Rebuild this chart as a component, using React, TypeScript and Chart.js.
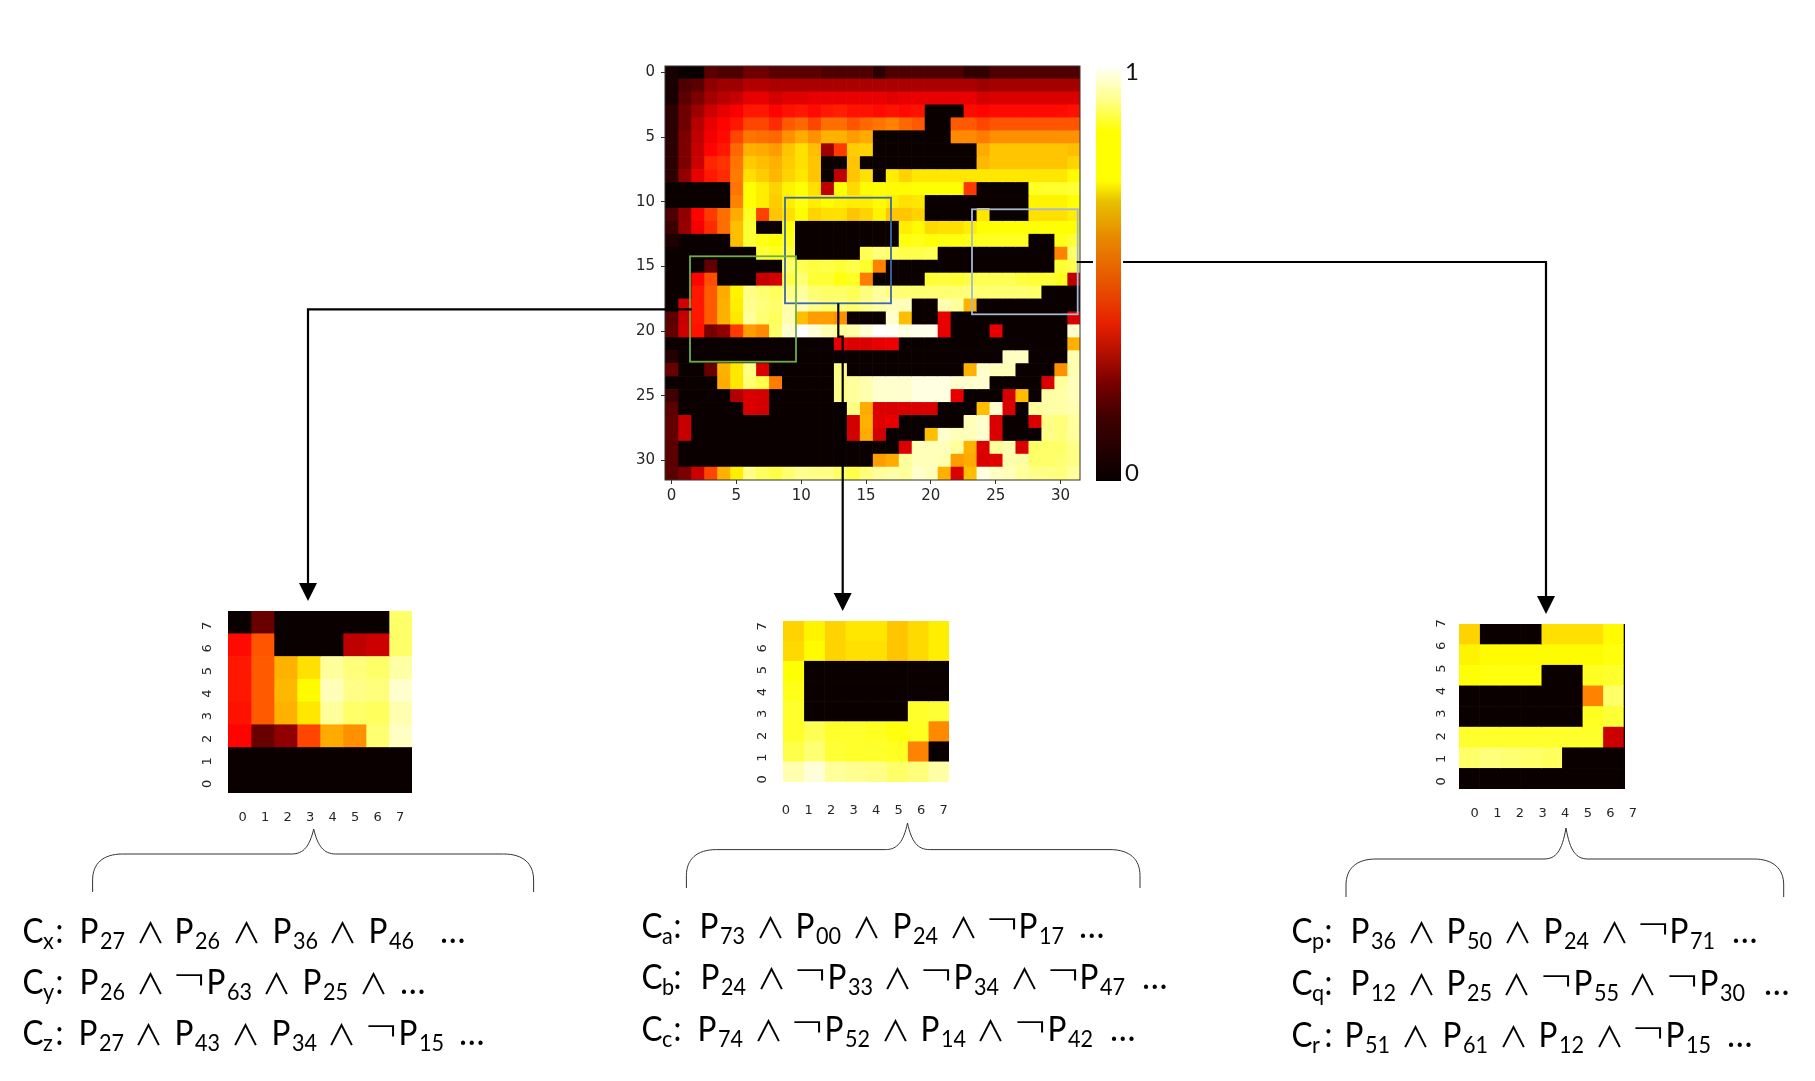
import React, { useEffect, useRef } from "react";
import { Chart, registerables } from "chart.js";

Chart.register(...registerables);

// Main 32x32 attribution map, row 0 first
const mainHeat: number[][] = [
  [.02,0,0,.12,.1,.1,.15,.15,.12,.12,.12,.12,.1,.1,.1,.1,.05,.1,.1,.1,.1,.1,.1,.06,.06,.1,.1,.1,.1,.1,.1,.1],
  [.02,.1,.12,.2,.22,.22,.25,.25,.24,.24,.24,.24,.24,.24,.24,.24,.24,.24,.24,.24,.24,.24,.24,.24,.22,.23,.23,.23,.23,.23,.23,.23],
  [.02,.12,.17,.23,.26,.28,.33,.33,.3,.32,.32,.33,.33,.33,.33,.33,.33,.32,.33,.33,.33,.33,.33,.33,.3,.31,.31,.31,.31,.31,.31,.31],
  [.05,.15,.22,.29,.33,.36,.4,.4,.37,.39,.4,.38,.4,.41,.39,.39,.38,.39,.38,.39,0,0,0,.38,.37,.38,.38,.38,.38,.38,.38,.39],
  [.05,.15,.26,.33,.37,.4,.47,.47,.43,.5,.52,.47,.53,.53,.49,.52,.54,.56,.52,.5,0,0,.5,.5,.47,.49,.49,.49,.49,.49,.49,.49],
  [.05,.17,.27,.35,.38,.47,.54,.53,.52,.58,.62,.58,.63,.63,.6,.62,0,0,0,0,0,0,.57,.57,.55,.58,.58,.58,.58,.58,.58,.58],
  [.05,.17,.28,.37,.4,.52,.63,.62,.6,.66,.7,.65,.22,.45,.67,.68,0,0,0,0,0,0,0,0,.62,.66,.66,.66,.66,.66,.66,.65],
  [.05,.17,.29,.42,.44,.54,.67,.65,.63,.67,.7,.66,0,0,.66,0,0,0,0,0,0,0,0,0,.64,.66,.66,.66,.66,.66,.66,.68],
  [.05,.2,.33,.4,.43,.55,.7,.67,.64,.68,.71,.66,0,.27,.66,.7,0,.72,.68,.71,.71,.71,.71,.71,.71,.71,.71,.71,.71,.71,.71,.74],
  [0,0,0,0,0,.54,.75,.72,.68,.73,.75,.7,.27,.75,.69,.74,.75,.74,.74,.75,.75,.75,.75,.45,0,0,0,0,.78,.79,.79,.8],
  [0,0,0,0,0,.56,.75,.72,.67,.72,.76,.72,.74,.73,.72,.72,.74,.72,.7,.71,0,0,0,0,0,0,0,0,.73,.73,.73,.75],
  [.1,.2,.37,.45,.53,.62,.78,.46,.66,.7,.74,.68,.7,.7,.66,.68,.73,.66,.66,.68,0,0,0,0,.71,0,0,0,.7,.7,.7,.72],
  [.07,.21,.35,.43,.53,.65,.8,0,0,.76,0,0,0,0,0,0,0,0,.72,.74,.69,.7,.7,.72,.75,.75,.75,.75,.75,.75,.75,.75],
  [.03,0,0,0,0,.65,.8,.77,.75,.78,0,0,0,0,0,0,0,0,.76,.77,.75,.76,.76,.77,.78,.78,.78,.78,0,0,.77,.8],
  [0,0,0,0,0,0,0,.8,.78,.81,0,0,0,0,0,.83,.87,.84,.82,.82,.83,0,0,0,0,0,0,0,0,0,.56,.85],
  [0,0,0,.13,0,0,0,0,0,.85,.83,.81,.82,.8,.82,.79,.56,0,0,0,0,0,0,0,0,0,0,0,0,0,.8,.82],
  [0,0,.37,.48,0,0,0,.28,.3,.82,.86,.8,.8,.76,.78,.55,0,0,0,0,.8,.81,.8,.82,.83,.83,.83,.81,.8,.8,.78,.27],
  [0,0,.4,.5,.62,.73,.88,.86,.84,.88,.9,.86,.85,.85,.83,.87,.9,.87,.86,.86,.86,.86,.86,.87,.86,.86,.86,.86,.85,0,0,0],
  [0,.3,.4,.5,.63,.72,.89,.87,.85,.91,.93,.88,.86,.87,.85,.88,.91,.93,.93,0,0,.92,.9,.63,0,0,0,0,0,0,0,0],
  [.12,.28,.4,.5,.63,.71,.9,.86,.84,.92,.65,.6,.6,.58,0,0,0,.95,.65,0,0,.33,0,0,0,0,0,0,0,0,0,.31],
  [.13,.29,.39,.16,.2,.45,.6,.57,.85,.95,1,.96,.92,.9,.91,.96,1,.99,.97,.98,.98,.33,0,0,0,.33,0,0,0,0,0,.95],
  [0,0,0,0,0,0,0,0,0,0,0,0,0,.33,.31,.31,.33,.34,0,0,0,0,0,0,0,0,0,0,0,0,0,.63],
  [.04,0,0,0,0,0,0,0,0,0,0,0,0,0,0,0,0,0,0,0,0,0,0,0,0,0,.94,.94,0,0,0,.92],
  [.14,0,0,.14,.63,.71,.88,.31,0,0,0,0,0,.88,0,0,0,0,0,0,0,0,0,.63,.95,.93,.93,0,0,0,.58,.92],
  [0,0,0,0,.62,.71,.86,.82,.55,0,0,0,0,.88,.9,.92,.95,.95,.95,.97,.97,.97,.95,.95,.95,0,0,0,0,.31,.9,.93],
  [.08,0,0,0,0,.25,.31,.3,0,0,0,0,0,.88,.9,.92,.95,.95,.95,.97,.97,.97,.33,0,0,0,.3,.65,0,.91,.91,.93],
  [.12,0,0,0,0,0,.31,.3,0,0,0,0,0,0,.88,.62,.31,.31,.31,.31,.31,0,0,0,.65,.95,.31,0,.9,.91,.91,.92],
  [.13,.28,0,0,0,0,0,0,0,0,0,0,0,0,.3,.63,.32,.33,0,0,0,0,0,.93,.95,.31,0,0,.31,.88,.87,.9],
  [.13,.28,0,0,0,0,0,0,0,0,0,0,0,0,.3,.62,.3,0,0,0,.65,.95,.93,.93,.95,.31,0,0,0,.88,.87,.9],
  [.12,0,0,0,0,0,0,0,0,0,0,0,0,0,0,0,0,0,.31,.93,.93,.93,.9,.63,.31,.9,.92,.31,.85,.85,.85,.88],
  [.12,0,0,0,0,0,0,0,0,0,0,0,0,0,0,0,.6,.62,.9,.93,.93,.92,.6,.62,.31,.32,.92,.91,.85,.85,.86,.88],
  [.12,.17,.29,.47,.63,.72,.88,.84,.82,.86,.89,.88,.88,.85,.82,.87,.9,.91,.9,.95,.93,.63,.31,.65,.97,.94,.93,.9,.88,.88,.87,.9],
];

// Zoomed 8x8 crops, top row first
const leftHeat: number[][] = [
  [0,.14,0,0,0,0,0,.85],
  [.38,.49,0,0,0,.27,.29,.85],
  [.4,.5,.63,.7,.9,.87,.85,.91],
  [.4,.5,.64,.74,.93,.88,.87,.95],
  [.39,.5,.63,.71,.9,.85,.84,.92],
  [.37,.14,.2,.47,.62,.58,.86,.94],
  [0,0,0,0,0,0,0,0],
  [0,0,0,0,0,0,0,0],
];
const middleHeat: number[][] = [
  [.68,.73,.68,.71,.71,.66,.69,.72],
  [.69,.74,.68,.7,.7,.66,.69,.72],
  [.75,0,0,0,0,0,0,0],
  [.77,0,0,0,0,0,0,0],
  [.79,0,0,0,0,0,.79,.8],
  [.79,.83,.79,.79,.78,.76,.78,.57],
  [.82,.86,.8,.79,.79,.78,.56,0],
  [.92,.96,.9,.89,.88,.85,.87,.91],
];
const rightHeat: number[][] = [
  [.68,0,0,0,.7,.7,.7,.74,0],
  [.73,.74,.74,.74,.74,.74,.74,.76,0],
  [.75,.76,.76,.76,0,0,.78,.79,0],
  [0,0,0,0,0,0,.56,.85,0],
  [0,0,0,0,0,0,.78,.8,0],
  [.79,.79,.79,.79,.79,.79,.79,.29,0],
  [.85,.87,.86,.85,.84,0,0,0,0],
  [0,0,0,0,0,0,0,0,0],
];

const mainTicks = [0, 5, 10, 15, 20, 25, 30];
const cropTicks = [0, 1, 2, 3, 4, 5, 6, 7];
const colorbarTicks = [0, 1];
const colorbarStops = [0, 0.08, 0.155, 0.275, 0.325, 0.41, 0.54, 0.62, 0.685, 0.765, 0.845, 1];
const colorbarColors = ["#fffff8", "#ffff8a", "#ffff00", "#ffff00", "#e8c000", "#e88a00", "#e84a00", "#e82000", "#b81000", "#780000", "#400000", "#080000"];

type Token = [number, string, string?];
const clausesLeft: { base: number; items: Token[] }[] = [
  { base: 943, items: [[24,"C","x"],[57,":"],[81,"P","27"],[140,"∧"],[176,"P","26"],[236,"∧"],[274,"P","36"],[332,"∧"],[370,"P","46"],[440,"…"]] },
  { base: 994, items: [[24,"C","y"],[57,":"],[81,"P","26"],[140,"∧"],[176,"¬"],[208,"P","63"],[266,"∧"],[304,"P","25"],[363,"∧"],[400,"…"]] },
  { base: 1045, items: [[24,"C","z"],[57,":"],[80,"P","27"],[138,"∧"],[176,"P","43"],[235,"∧"],[273,"P","34"],[331,"∧"],[368,"¬"],[400,"P","15"],[459,"…"]] },
];
const clausesMiddle: { base: number; items: Token[] }[] = [
  { base: 938, items: [[643,"C","a"],[675,":"],[701,"P","73"],[760,"∧"],[797,"P","00"],[856,"∧"],[894,"P","24"],[953,"∧"],[989,"¬"],[1020,"P","17"],[1079,"…"]] },
  { base: 989, items: [[643,"C","b"],[675,":"],[702,"P","24"],[761,"∧"],[797,"¬"],[829,"P","33"],[887,"∧"],[923,"¬"],[955,"P","34"],[1014,"∧"],[1050,"¬"],[1081,"P","47"],[1142,"…"]] },
  { base: 1041, items: [[643,"C","c"],[675,":"],[699,"P","74"],[758,"∧"],[794,"¬"],[826,"P","52"],[885,"∧"],[922,"P","14"],[980,"∧"],[1017,"¬"],[1049,"P","42"],[1110,"…"]] },
];
const clausesRight: { base: number; items: Token[] }[] = [
  { base: 943, items: [[1293,"C","p"],[1326,":"],[1352,"P","36"],[1411,"∧"],[1448,"P","50"],[1507,"∧"],[1545,"P","24"],[1604,"∧"],[1640,"¬"],[1671,"P","71"],[1732,"…"]] },
  { base: 995, items: [[1293,"C","q"],[1326,":"],[1352,"P","12"],[1411,"∧"],[1448,"P","25"],[1506,"∧"],[1543,"¬"],[1575,"P","55"],[1632,"∧"],[1669,"¬"],[1701,"P","30"],[1764,"…"]] },
  { base: 1047, items: [[1293,"C","r"],[1326,":"],[1346,"P","51"],[1405,"∧"],[1444,"P","61"],[1503,"∧"],[1540,"P","12"],[1599,"∧"],[1635,"¬"],[1667,"P","15"],[1727,"…"]] },
];

function hot(v: number): string {
  const c = (x: number) => Math.round(Math.max(0, Math.min(1, x)) * 255);
  const r = c(0.0416 + (v / 0.3651) * 0.9584);
  const g = c((v - 0.3651) / 0.3809);
  const b = c((v - 0.746) / 0.254);
  return `rgb(${r},${g},${b})`;
}

const spineBox = {
  id: "spineBox",
  afterDraw(chart: any, _a: any, opts: any) {
    if (!opts.color) return;
    const { left, top, width, height } = chart.chartArea;
    chart.ctx.save();
    chart.ctx.strokeStyle = opts.color;
    chart.ctx.lineWidth = 1;
    chart.ctx.strokeRect(left, top, width, height);
    chart.ctx.restore();
  },
};

type HeatCfg = {
  grid: number[][];
  box: [number, number, number, number];
  cellMax: number;
  xr: [number, number];
  yr: [number, number];
  xTicks: number[];
  yTicks: number[];
  font: number;
  tickLen: number;
  xPad: number;
  yPad: number;
  rotateY: boolean;
  flipY: boolean;
  spine: string;
};

const PADL = 60, PADT = 10, PADR = 30, PADB = 40;

const heats: HeatCfg[] = [
  { grid: mainHeat, box: [665, 66, 415, 414], cellMax: 32, xr: [-0.5, 31.5], yr: [-31.5, 0.5], xTicks: mainTicks, yTicks: mainTicks, font: 15, tickLen: 4, xPad: 3, yPad: 6, rotateY: false, flipY: true, spine: "#333" },
  { grid: leftHeat, box: [228.3, 611, 184.4, 182.3], cellMax: 8, xr: [-0.652, 7.53], yr: [-0.4, 7.66], xTicks: cropTicks, yTicks: cropTicks, font: 13, tickLen: 0, xPad: 17, yPad: 16, rotateY: true, flipY: false, spine: "" },
  { grid: middleHeat, box: [783, 621, 166.3, 160.7], cellMax: 8, xr: [-0.133, 7.235], yr: [-0.115, 7.25], xTicks: cropTicks, yTicks: cropTicks, font: 13, tickLen: 0, xPad: 21, yPad: 16, rotateY: true, flipY: false, spine: "" },
  { grid: rightHeat, box: [1459.3, 624, 165.7, 165.3], cellMax: 8.08, xr: [-0.696, 6.646], yr: [-0.336, 6.97], xTicks: cropTicks, yTicks: cropTicks, font: 13, tickLen: 0, xPad: 17, yPad: 13, rotateY: true, flipY: false, spine: "" },
];

function buildHeat(canvas: HTMLCanvasElement, cfg: HeatCfg): Chart {
  const rows = cfg.grid.map((_, i) => String(i));
  const cols = cfg.grid[0].length;
  const datasets = Array.from({ length: cols }, (_, c) => ({
    data: cfg.grid.map(() => [c, c + 1]),
    backgroundColor: cfg.grid.map((row) => hot(row[c])),
    borderWidth: 0,
    xAxisID: "x",
    yAxisID: "y",
    barPercentage: 1,
    categoryPercentage: 1,
    grouped: false,
  }));
  const tickColor = "#262626";
  const tickGrid = {
    display: cfg.tickLen > 0,
    offset: false,
    drawOnChartArea: false,
    drawTicks: cfg.tickLen > 0,
    tickLength: cfg.tickLen,
    color: "#333",
  };
  return new Chart(canvas, {
    type: "bar",
    data: { labels: rows, datasets: datasets as any },
    plugins: [spineBox],
    options: {
      indexAxis: "y",
      animation: false,
      responsive: false,
      events: [],
      layout: { padding: { left: 0, top: PADT, right: PADR, bottom: 0 } },
      plugins: { legend: { display: false }, tooltip: { enabled: false }, spineBox: { color: cfg.spine } } as any,
      scales: {
        x: { type: "linear", display: false, min: 0, max: cfg.cellMax },
        y: { type: "category", display: false, offset: true },
        xt: {
          type: "linear",
          axis: "x",
          position: "bottom",
          offset: false,
          min: cfg.xr[0],
          max: cfg.xr[1],
          grid: tickGrid,
          border: { display: false },
          afterBuildTicks: (a: any) => { a.ticks = cfg.xTicks.map((value) => ({ value })); },
          afterFit: (a: any) => { a.height = PADB; a.paddingLeft = 0; a.paddingRight = 0; },
          ticks: {
            autoSkip: false, maxRotation: 0, minRotation: 0, padding: cfg.xPad, color: tickColor,
            font: { family: "'DejaVu Sans'", size: cfg.font },
            callback: (v: any) => String(v),
          },
        },
        yt: {
          type: "linear",
          axis: "y",
          position: "left",
          offset: false,
          min: cfg.yr[0],
          max: cfg.yr[1],
          grid: tickGrid,
          border: { display: false },
          afterBuildTicks: (a: any) => { a.ticks = cfg.yTicks.map((t) => ({ value: cfg.flipY ? -t : t })); },
          afterFit: (a: any) => { a.width = PADL; a.paddingTop = 0; a.paddingBottom = 0; },
          ticks: {
            autoSkip: false,
            minRotation: cfg.rotateY ? 90 : 0,
            maxRotation: cfg.rotateY ? 90 : 0,
            crossAlign: cfg.rotateY ? "center" : "near",
            padding: cfg.yPad,
            color: tickColor,
            font: { family: "'DejaVu Sans'", size: cfg.font },
            callback: (v: any) => String(Math.abs(v)),
          },
        },
      } as any,
    },
  });
}

function buildColorbar(canvas: HTMLCanvasElement): Chart {
  return new Chart(canvas, {
    type: "bar",
    data: {
      labels: ["colorbar"],
      datasets: [{
        data: [[-0.02, 1.012]] as any,
        borderWidth: 0,
        barPercentage: 1,
        categoryPercentage: 1,
        backgroundColor: (ctx: any) => {
          const area = ctx.chart.chartArea;
          if (!area) return "#000";
          const g = ctx.chart.ctx.createLinearGradient(0, area.top, 0, area.bottom);
          colorbarStops.forEach((s, i) => g.addColorStop(s, colorbarColors[i]));
          return g;
        },
      }],
    },
    options: {
      animation: false,
      responsive: false,
      events: [],
      layout: { padding: { top: 20, bottom: 20 } },
      plugins: { legend: { display: false }, tooltip: { enabled: false } },
      scales: {
        x: { type: "category", display: false, offset: true },
        y: {
          type: "linear",
          position: "right",
          min: -0.02,
          max: 1.012,
          grid: { display: false },
          border: { display: false },
          afterBuildTicks: (a: any) => { a.ticks = colorbarTicks.map((value) => ({ value })); },
          afterFit: (a: any) => { a.width = 45; a.paddingTop = 0; a.paddingBottom = 0; },
          ticks: {
            padding: -4, color: "#111",
            font: { family: "Lato", size: 24 },
            callback: (v: any) => String(v),
          },
        },
      },
    } as any,
  });
}

const Clause = ({ base, items }: { base: number; items: Token[] }) => (
  <g fill="#000">
    {items.map(([x, t, sub], i) => {
      if (t === "∧") return <text key={i} x={x - 4} y={base + 1} fontFamily="'Noto Sans CJK SC'" fontSize={29}>{t}</text>;
      if (t === "¬") return <text key={i} x={x - 4} y={base - 3} fontFamily="'DejaVu Sans'" fontWeight={200} fontSize={42}>{t}</text>;
      if (t === "…") return <text key={i} x={x} y={base} fontFamily="Lato" fontSize={34}>{t}</text>;
      return (
        <g key={i}>
          <text transform={`translate(${x - 1.5},${base}) scale(0.9,1)`} fontFamily="Lato" fontSize={35}>{t}</text>
          {sub ? <text transform={`translate(${x + 19},${base + 6}) scale(0.9,1)`} fontFamily="Lato" fontSize={24}>{sub}</text> : null}
        </g>
      );
    })}
  </g>
);

function brace(l: number, r: number, mid: number, y: number, peak: number, end: number): string {
  return `M${l},${end} V${y + 26} C${l},${y + 10} ${l + 10},${y} ${l + 30},${y} H${mid - 22} C${mid - 10},${y} ${mid - 4},${y - 8} ${mid},${peak} C${mid + 4},${y - 8} ${mid + 10},${y} ${mid + 22},${y} H${r - 30} C${r - 10},${y} ${r},${y + 10} ${r},${y + 26} V${end}`;
}

export default function App() {
  const mainRef = useRef<HTMLCanvasElement>(null);
  const leftRef = useRef<HTMLCanvasElement>(null);
  const midRef = useRef<HTMLCanvasElement>(null);
  const rightRef = useRef<HTMLCanvasElement>(null);
  const barRef = useRef<HTMLCanvasElement>(null);

  useEffect(() => {
    const refs = [mainRef, leftRef, midRef, rightRef];
    const charts = heats.map((h, i) => buildHeat(refs[i].current!, h));
    charts.push(buildColorbar(barRef.current!));
    return () => charts.forEach((c) => c.destroy());
  }, []);

  const refs = [mainRef, leftRef, midRef, rightRef];
  return (
    <div style={{ position: "absolute", left: 0, top: 0, width: 1815, height: 1081, background: "#fff", overflow: "hidden" }}>
      {heats.map((h, i) => (
        <canvas
          key={i}
          ref={refs[i]}
          width={Math.round(h.box[2] + PADL + PADR)}
          height={Math.round(h.box[3] + PADT + PADB)}
          style={{ position: "absolute", left: h.box[0] - PADL, top: h.box[1] - PADT, width: Math.round(h.box[2] + PADL + PADR), height: Math.round(h.box[3] + PADT + PADB) }}
        />
      ))}
      <canvas ref={barRef} width={70} height={454} style={{ position: "absolute", left: 1096, top: 47, width: 70, height: 454 }} />
      <svg width={1815} height={1081} style={{ position: "absolute", left: 0, top: 0, pointerEvents: "none" }}>
        <g fill="none" strokeWidth={1.8}>
          <rect x={785} y={197.7} width={106} height={105.6} stroke="#3f68a8" />
          <rect x={690} y={256.3} width={106} height={105.4} stroke="#70ad47" />
          <rect x={972} y={209.3} width={105.7} height={105} stroke="#a5b8d6" />
        </g>
        <g fill="none" stroke="#000" strokeWidth={2.2}>
          <path d="M691.7,309.3 H308 V584" />
          <path d="M838.3,303.3 V336.7 H842.7 V595" />
          <path d="M1076.7,262 H1093 M1123,262 H1546 V598" />
        </g>
        <g fill="#000">
          <polygon points="299,583 317,583 308,601" />
          <polygon points="833.7,593 851.7,593 842.7,611" />
          <polygon points="1537,596 1555,596 1546,614" />
        </g>
        <g fill="none" stroke="#333" strokeWidth={1}>
          <path d={brace(92.6, 533.6, 313.7, 854, 829, 892)} />
          <path d={brace(686.4, 1140, 907.5, 849.6, 823, 888)} />
          <path d={brace(1346, 1783.7, 1566, 859, 828, 897)} />
        </g>
        {[...clausesLeft, ...clausesMiddle, ...clausesRight].map((c, i) => (
          <Clause key={i} base={c.base} items={c.items} />
        ))}
      </svg>
    </div>
  );
}
